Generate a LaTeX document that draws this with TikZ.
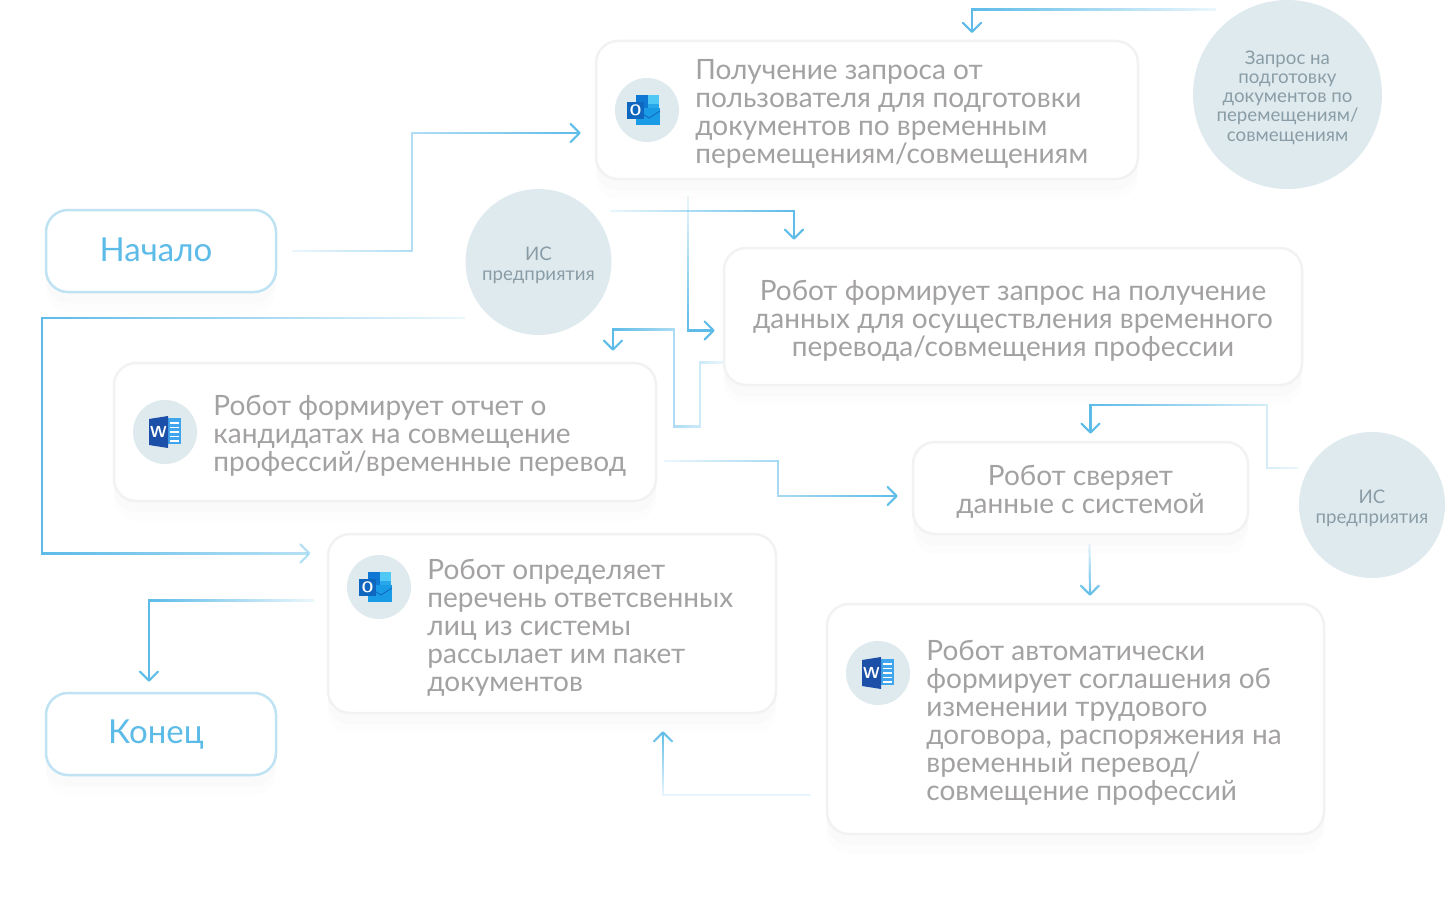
\documentclass[tikz,border=0pt]{standalone}
\usepackage{fontspec}
\setmainfont{Lato}
\usetikzlibrary{positioning,arrows.meta,shadows,fadings}

\definecolor{wireblue}{HTML}{5DBBE8}
\definecolor{tagblue}{HTML}{BFE3F3}
\definecolor{textgrey}{HTML}{A3A1A1}
\definecolor{sourcegrey}{HTML}{8A9DA6}
\definecolor{discblue}{HTML}{DFEAEF}
\definecolor{edgegrey}{HTML}{F1F2F2}
\definecolor{shadefar}{HTML}{FDFDFD}
\definecolor{shadenear}{HTML}{FAFAFA}
\definecolor{wordfront}{HTML}{1B4FA8}
\definecolor{wordpage}{HTML}{41A5EE}
\definecolor{mailfront}{HTML}{0F66BE}
\definecolor{mailback}{HTML}{0F78D4}
\definecolor{mailcella}{HTML}{28A8EA}
\definecolor{mailcellb}{HTML}{50C8F5}
\definecolor{mailenv}{HTML}{1A9BE6}

\tikzfading[name=towest, right color=transparent!88, left color=transparent!0]
\tikzfading[name=toeast, left color=transparent!88, right color=transparent!0]
\tikzfading[name=tosouth, top color=transparent!88, bottom color=transparent!0]
\tikzfading[name=tonorth, bottom color=transparent!88, top color=transparent!0]

\begin{document}
\begin{tikzpicture}[
  x=1pt, y=-1pt,
  stepbox/.style={
    draw=edgegrey,
    fill=white,
    rounded corners=22pt,
    line width=2.5pt,
    preaction={draw=none, fill=shadefar, transform canvas={yshift=-20pt}},
    preaction={draw=none, fill=shadenear, transform canvas={yshift=-11pt}}
  },
  endbox/.style={
    stepbox,
    draw=tagblue,
    minimum width=230pt,
    minimum height=82pt
  },
  endtext/.style={
    font=\fontsize{33}{33}\selectfont,
    text=wireblue,
    inner sep=0pt
  },
  steptext/.style={
    font=\fontsize{28}{28}\selectfont,
    text=textgrey,
    inner sep=0pt
  },
  source/.style={circle, fill=discblue, inner sep=0pt},
  sourcetext/.style={
    font=\fontsize{18.7}{19.3}\selectfont,
    align=center,
    text=sourcegrey,
    inner sep=0pt
  },
  iconspot/.style={circle, fill=discblue, minimum size=64pt, inner sep=0pt},
  wire/.style={
    draw=wireblue,
    line width=2.2pt,
    -{Straight Barb[length=9pt,width=18pt,round]}
  },
  wordicon/.pic={
    \fill[wordpage] (3,-14) rectangle (16,12);
    \foreach \rowy in {-9,-4.5,0,4.5,9}
      \draw[white, line width=1.4pt] (5,\rowy) -- (14,\rowy);
    \fill[wordfront] (-16,-13) -- (3,-16) -- (3,16) -- (-16,13) -- cycle;
    \node[text=white, inner sep=0pt, font=\fontsize{16}{16}\sffamily\bfseries] at (-6.5,0) {W};
  },
  outlookicon/.pic={
    \fill[mailback] (-11,-15) rectangle (12,3);
    \fill[mailcellb] (1,-15) rectangle (12,-6);
    \fill[mailcella] (1,-6) rectangle (12,3);
    \fill[mailenv] (-11,-2) -- (13,-2) -- (13,15) -- (-11,15) -- cycle;
    \draw[mailfront, line width=0.8pt] (-9,1) -- (2,8) -- (13,1);
    \fill[mailfront] (-20,-8) rectangle (-3,9);
    \node[text=white, inner sep=0pt, font=\fontsize{15}{15}\sffamily\bfseries] at (-11.5,0.5) {O};
  }
]
\useasboundingbox (0,0) rectangle (1446,899);

% boxes
\node[endbox] (begin) at (161,251) {};
\node[endbox] (finish) at (161,734) {};
\node[stepbox, minimum width=542pt, minimum height=138pt] (getreq) at (867,110) {};
\node[stepbox, minimum width=578pt, minimum height=137pt] (formreq) at (1013,316.5) {};
\node[stepbox, minimum width=542pt, minimum height=138pt] (report) at (385,432) {};
\node[stepbox, minimum width=335pt, minimum height=92pt] (check) at (1080.5,488) {};
\node[stepbox, minimum width=448pt, minimum height=179pt] (persons) at (552,623.5) {};
\node[stepbox, minimum width=497pt, minimum height=230pt] (agree) at (1075.5,719) {};

\node[endtext] (begintext) at ([xshift=-5pt,yshift=1pt]begin) {Начало};
\node[endtext] (finishtext) at ([xshift=-5pt,yshift=-1pt]finish) {Конец};

% sources
\node[source, minimum size=189pt] (reqsrc) at (1287.5,94.5) {};
\node[source, minimum size=146pt] (hrleft) at (538.5,262) {};
\node[source, minimum size=146pt] (hrright) at (1372,505) {};
\node[sourcetext] (reqsrctext) at ([yshift=-3pt]reqsrc)
  {Запрос на\\подготовку\\документов по\\перемещениям/\\совмещениям};
\node[sourcetext] (hrlefttext) at ([yshift=-3.5pt]hrleft) {ИС\\предприятия};
\node[sourcetext] (hrrighttext) at ([yshift=-3.5pt]hrright) {ИС\\предприятия};

% icons
\node[iconspot] (mailone) at (647,110) {};
\node[iconspot] (docone) at (165,432) {};
\node[iconspot] (mailtwo) at (379,587) {};
\node[iconspot] (doctwo) at (878,673) {};
\pic at (mailone) {outlookicon};
\pic at (docone) {wordicon};
\pic at (mailtwo) {outlookicon};
\pic at (doctwo) {wordicon};

% texts
\node[steptext, align=left, anchor=west, right=16pt of mailone, yshift=-4pt] (getreqtext)
  {Получение запроса от\\пользователя для подготовки\\документов по временным\\перемещениям/совмещениям};
\node[steptext, align=center, yshift=-4pt] (formreqtext) at (formreq)
  {Робот формирует запрос на получение\\данных для осуществления временного\\перевода/совмещения профессии};
\node[steptext, align=left, anchor=west, right=16pt of docone, yshift=-4pt] (reporttext)
  {Робот формирует отчет о\\кандидатах на совмещение\\профессий/временные перевод};
\node[steptext, align=center, yshift=-4pt] (checktext) at (check)
  {Робот сверяет\\данные с системой};
\node[steptext, align=left, anchor=north west] (personstext) at ([xshift=16pt,yshift=28pt]mailtwo.east)
  {Робот определяет\\перечень ответсвенных\\лиц из системы\\рассылает им пакет\\документов};
\node[steptext, align=left, anchor=north west] (agreetext) at ([xshift=16pt,yshift=33pt]doctwo.east)
  {Робот автоматически\\формирует соглашения об\\изменении трудового\\договора, распоряжения на\\временный перевод/\\совмещение профессий};

% free ends
\coordinate (reqout) at ([xshift=-72pt,yshift=85pt]reqsrc.center);
\coordinate (reqin) at (972,33);
\coordinate (checkout) at ([xshift=9pt,yshift=-9pt]check.south);

% connectors
\draw[wire, path fading=toeast] ([xshift=15pt]begin.east) -- ++(120,0) |- ([xshift=-14pt,yshift=-23pt]getreq.west);
\draw[wire, path fading=towest] (reqout) -| (reqin);
\draw[wire, path fading=tosouth] ([xshift=-179pt,yshift=-16pt]getreq.south) |- ([xshift=-8pt,yshift=-14pt]formreq.west);
\draw[wire, path fading=toeast] ([xshift=-2pt]hrleft.east |- 0,211) -| ([xshift=-219pt,yshift=7pt]formreq.north);
\draw[wire, path fading=towest] ([yshift=-46pt]formreq.west) -- ++(-23,0) -- ++(0,64) -- ++(-26,0) -- ++(0,-97) -| ([xshift=228pt,yshift=11pt]report.north);
\draw[wire, path fading=towest] ([xshift=-147pt,yshift=37pt]hrright.east) -- ++(-31,0) -- ++(0,-63) -| ([yshift=7pt,xshift=10pt]check.north);
\draw[wire, path fading=towest] (hrleft.west |- 0,318) -- ++(-423,0) |- ([xshift=-16pt,yshift=70pt]persons.west);
\draw[wire, path fading=toeast] ([xshift=7pt,yshift=-29pt]report.east) -- ++(114,0) |- ([xshift=-14pt,yshift=-8pt]check.west);
\draw[wire, path fading=tosouth] (checkout) ++(-12,0) ++(24,0) ++(-12,0) -- ([yshift=7pt,xshift=14.5pt]agree.north);
\draw[wire, path fading=tonorth] ([xshift=-15pt,yshift=-76pt]agree.west) -| ([xshift=111pt,yshift=-17pt]persons.south);
\draw[wire, path fading=towest] ([xshift=-13pt,yshift=23pt]persons.west) -| ([xshift=-12pt,yshift=10pt]finish.north);

\end{tikzpicture}
\end{document}
